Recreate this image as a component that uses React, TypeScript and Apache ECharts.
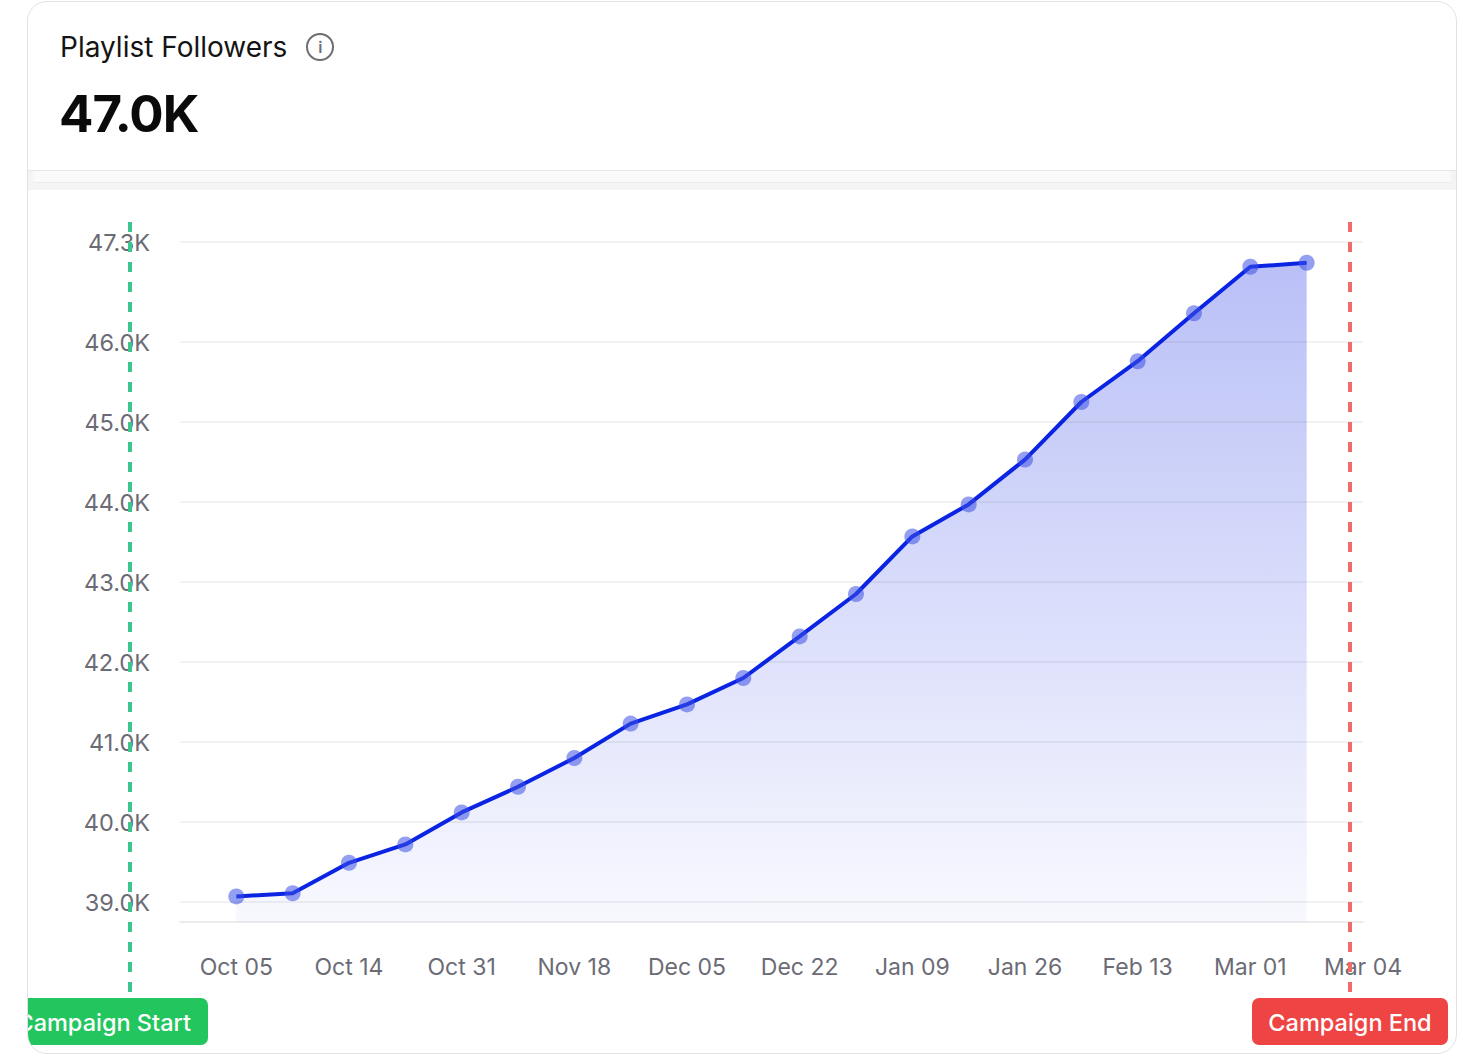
import * as echarts from 'echarts';
import { useEffect, useRef } from 'react';

// x categories: leading blank slot so the first point sits one step in from the grid edge
const categories = [
    '', 'Oct 05', 'Oct 09', 'Oct 14', 'Oct 22', 'Oct 31', 'Nov 09', 'Nov 18', 'Nov 26',
    'Dec 05', 'Dec 13', 'Dec 22', 'Dec 31', 'Jan 09', 'Jan 17', 'Jan 26', 'Feb 04',
    'Feb 13', 'Feb 21', 'Mar 01', 'Mar 02', 'Mar 04'
];

const followers = [
    39070, 39110, 39490, 39720, 40120, 40440, 40800, 41230, 41470, 41800,
    42320, 42850, 43570, 43970, 44530, 45250, 45760, 46360, 46940, 46990
];

const yMin = 38750;
const yMax = 47250;
const yTickValues = [39000, 40000, 41000, 42000, 43000, 44000, 45000, 46000, 47250];

const title = 'Playlist Followers';
const currentValue = '47.0K';
const startLabel = 'Campaign Start';
const endLabel = 'Campaign End';

const FONT = 'Inter, "Noto Sans", sans-serif';

const FollowersChart = () => {
    const chartDiv = useRef<HTMLDivElement>(null);

    useEffect(() => {
        const chart = echarts.init(chartDiv.current, null, { renderer: 'svg' });

        chart.setOption({
            animation: false,
            textStyle: { fontFamily: FONT },
            grid: {
                left: 152,
                right: 93,
                top: 52,
                bottom: 131,
                outerBoundsMode: 'none'
            },
            xAxis: {
                type: 'category',
                data: categories,
                boundaryGap: false,
                axisLine: { show: true, lineStyle: { color: '#e6e6e8', width: 1.5 } },
                axisTick: { show: false },
                axisLabel: {
                    interval: (index: number) => index % 2 === 1,
                    color: '#6b6b75',
                    fontSize: 23,
                    margin: 33,
                    fontFamily: FONT
                },
                splitLine: { show: false }
            },
            yAxis: {
                type: 'value',
                min: yMin,
                max: yMax,
                z: 3,
                axisLine: { show: false },
                axisTick: { show: false, customValues: yTickValues },
                axisLabel: {
                    customValues: yTickValues,
                    color: '#6b6b75',
                    fontSize: 23.5,
                    margin: 30,
                    fontFamily: FONT,
                    formatter: (v: number) => (v / 1000).toFixed(1) + 'K'
                },
                splitLine: {
                    show: true,
                    lineStyle: { color: 'rgba(0,0,0,0.07)', width: 1.5 }
                }
            },
            series: [
                {
                    type: 'line',
                    data: [null, ...followers],
                    symbol: 'circle',
                    symbolSize: 16,
                    showSymbol: true,
                    itemStyle: { color: 'rgba(60,80,230,0.55)', borderWidth: 0 },
                    lineStyle: { color: '#0b24e3', width: 4 },
                    areaStyle: {
                        color: new echarts.graphic.LinearGradient(0, 0, 0, 1, [
                            { offset: 0, color: 'rgba(90,105,235,0.6)' },
                            { offset: 1, color: 'rgba(90,105,235,0.06)' }
                        ])
                    },
                    z: 2
                }
            ],
            graphic: [
                {
                    type: 'line',
                    z: 50,
                    shape: { x1: 102, y1: 32, x2: 102, y2: 802 },
                    style: { stroke: '#3cc68e', lineWidth: 4, lineDash: [10, 10] }
                },
                {
                    type: 'line',
                    z: 50,
                    shape: { x1: 1322, y1: 32, x2: 1322, y2: 802 },
                    style: { stroke: '#f26b6b', lineWidth: 4, lineDash: [10, 10] }
                },
                {
                    type: 'rect',
                    z: 50,
                    shape: { x: -40, y: 808, width: 220, height: 47, r: 7 },
                    style: { fill: '#22c55e' }
                },
                {
                    type: 'text',
                    z: 51,
                    x: 163,
                    y: 832,
                    style: {
                        text: startLabel,
                        fill: '#ffffff',
                        font: `500 23.5px ${FONT}`,
                        textAlign: 'right',
                        textVerticalAlign: 'middle'
                    }
                },
                {
                    type: 'rect',
                    z: 50,
                    shape: { x: 1224, y: 808, width: 196, height: 47, r: 7 },
                    style: { fill: '#ef4444' }
                },
                {
                    type: 'text',
                    z: 51,
                    x: 1322,
                    y: 832,
                    style: {
                        text: endLabel,
                        fill: '#ffffff',
                        font: `500 23.5px ${FONT}`,
                        textAlign: 'center',
                        textVerticalAlign: 'middle'
                    }
                }
            ]
        });

        return () => {
            chart.dispose();
        };
    }, []);

    return <div ref={chartDiv} style={{ width: '100%', height: '863px' }} />;
};

const App = () => {
    return (
        <div
            style={{
                position: 'absolute',
                left: 27,
                top: 1,
                width: 1430,
                height: 1053,
                boxSizing: 'border-box',
                border: '1.5px solid #e2e2e4',
                borderRadius: 20,
                overflow: 'hidden',
                background: '#ffffff',
                fontFamily: FONT
            }}
        >
            <div style={{ height: 168, position: 'relative' }}>
                <div
                    style={{
                        position: 'absolute',
                        left: 32,
                        top: 27,
                        fontSize: 28,
                        color: '#141414',
                        display: 'flex',
                        alignItems: 'center',
                        lineHeight: '36px'
                    }}
                >
                    <span>{title}</span>
                    <span
                        style={{
                            marginLeft: 19,
                            width: 24,
                            height: 24,
                            borderRadius: '50%',
                            border: '2px solid #6e6e72',
                            color: '#6e6e72',
                            fontSize: 16,
                            fontWeight: 600,
                            lineHeight: '24px',
                            textAlign: 'center',
                            display: 'inline-block'
                        }}
                    >
                        i
                    </span>
                </div>
                <div
                    style={{
                        position: 'absolute',
                        left: 31,
                        top: 81,
                        fontSize: 51,
                        fontWeight: 700,
                        color: '#0a0a0a',
                        lineHeight: '62px',
                        letterSpacing: '-1px'
                    }}
                >
                    {currentValue}
                </div>
            </div>
            <div
                style={{
                    height: 20,
                    borderTop: '1.5px solid #e8e8ea',
                    background: '#f4f4f5',
                    boxSizing: 'border-box',
                    position: 'relative'
                }}
            >
                <div
                    style={{
                        position: 'absolute',
                        left: 5,
                        right: 5,
                        top: 0,
                        height: 11,
                        background: '#fafafa',
                        borderBottom: '1px solid #ededef',
                        borderRadius: 2
                    }}
                />
            </div>
            <FollowersChart />
        </div>
    );
};

export default App;
